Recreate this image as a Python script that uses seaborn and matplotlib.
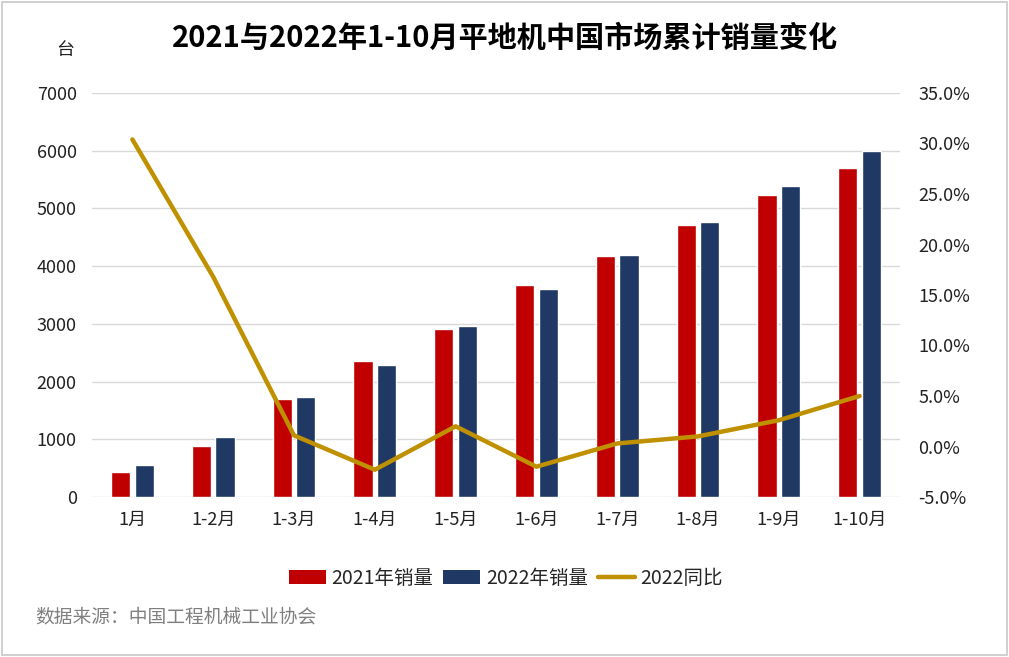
import numpy as np
import pandas as pd
import matplotlib
matplotlib.use("Agg")
import matplotlib.pyplot as plt
from matplotlib.patches import Rectangle, Patch
from matplotlib.lines import Line2D
import seaborn as sns

categories = ["1月", "1-2月", "1-3月", "1-4月", "1-5月", "1-6月", "1-7月", "1-8月", "1-9月", "1-10月"]
sales_2021 = [430, 884, 1698, 2357, 2917, 3674, 4177, 4714, 5234, 5702]
sales_2022 = [555, 1040, 1733, 2288, 2969, 3605, 4194, 4766, 5390, 5996]
yoy_2022 = [30.4, 16.8, 1.1, -2.3, 2.0, -2.0, 0.3, 1.0, 2.6, 5.0]
left_ticks = [0, 1000, 2000, 3000, 4000, 5000, 6000, 7000]
right_ticks = [-5, 0, 5, 10, 15, 20, 25, 30, 35]

sns.set_theme(style="white")
plt.rcParams['font.family'] = ['Noto Sans CJK SC', 'DejaVu Sans']

RED = "#C00000"
NAVY = "#1F3864"
GOLD = "#BF9000"

df = pd.DataFrame({
    "month": categories * 2,
    "sales": sales_2021 + sales_2022,
    "series": ["2021年销量"] * 10 + ["2022年销量"] * 10,
})

fig = plt.figure(figsize=(10.09, 6.57), dpi=100)
ax = fig.add_axes([92 / 1009, 1 - 497 / 657, (900 - 92) / 1009, (497 - 93) / 657])

sns.barplot(data=df, x="month", y="sales", hue="series", order=categories,
            palette=[RED, NAVY], width=0.58, gap=0.18, ax=ax, legend=False,
            errorbar=None, saturation=1)
ax.set_xlim(-0.5, 9.5)
ax.set_ylim(0, 7000)
ax.set_yticks(left_ticks)
ax.set_yticklabels([str(t) for t in left_ticks])
ax.set_xlabel("")
ax.set_ylabel("")
ax.grid(axis="y", color="#D9D9D9", linewidth=1)
ax.set_axisbelow(True)
for s in ax.spines.values():
    s.set_visible(False)
ax.tick_params(axis="y", length=0, pad=11, labelsize=13, labelcolor="#222222")
ax.tick_params(axis="x", length=0, pad=10, labelsize=13, labelcolor="#222222")

ax2 = ax.twinx()
sns.lineplot(x=np.arange(len(categories)), y=yoy_2022, ax=ax2, color=GOLD,
             linewidth=3.2, legend=False)
ax2.set_ylim(-5, 35)
ax2.set_yticks(right_ticks)
ax2.set_yticklabels([f"{t:.1f}%" for t in right_ticks])
ax2.grid(False)
for s in ax2.spines.values():
    s.set_visible(False)
ax2.tick_params(axis="y", length=0, pad=13, labelsize=13, labelcolor="#222222")
ax2.set_xlim(-0.5, 9.5)

fig.text(505 / 1009, 1 - 38 / 657, "2021与2022年1-10月平地机中国市场累计销量变化",
         ha="center", va="center", fontsize=21, fontweight="bold", color="#000000")
fig.text(65 / 1009, 1 - 50 / 657, "台", ha="center", va="center", fontsize=13, color="#222222")
fig.text(35 / 1009, 1 - 617 / 657, "数据来源：中国工程机械工业协会", ha="left", va="center",
         fontsize=13.5, color="#7F7F7F")

handles = [Patch(facecolor=RED, edgecolor="none"),
           Patch(facecolor=NAVY, edgecolor="none"),
           Line2D([0], [0], color=GOLD, linewidth=3.2)]
labels = ["2021年销量", "2022年销量", "2022同比"]
fig.legend(handles, labels, loc="center", bbox_to_anchor=(506 / 1009, 1 - 578 / 657),
           ncol=3, frameon=False, fontsize=14, handlelength=1.9, handleheight=0.75,
           handletextpad=0.3, columnspacing=0.5)

fig.patches.append(Rectangle((0.002, 0.003), 0.996, 0.994, transform=fig.transFigure,
                             fill=False, edgecolor="#C8C8C8", linewidth=1.2))

fig.savefig("out.png", dpi=100)
